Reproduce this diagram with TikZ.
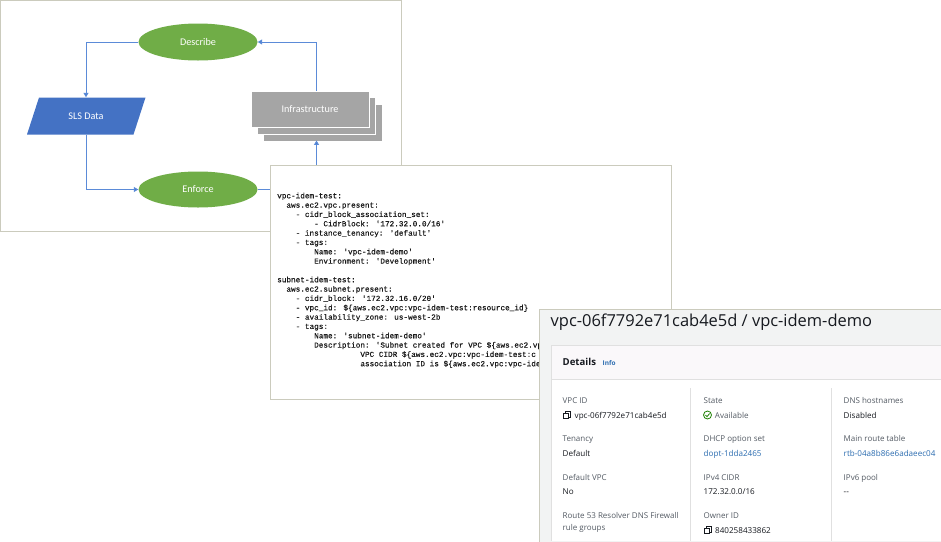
\documentclass[tikz,border=0pt]{standalone}
\usepackage{fontspec}
\usetikzlibrary{shapes.geometric,arrows.meta}
\newfontfamily\diagfont{Carlito}
\newfontfamily\codefont[FakeBold=0.35]{Liberation Mono}
\newfontfamily\awsfont{Open Sans}
\definecolor{framec}{HTML}{CBCBBD}
\definecolor{arrowc}{HTML}{5B8BD8}
\definecolor{greenf}{HTML}{70AD47}
\definecolor{bluef}{HTML}{4472C4}
\definecolor{greyf}{HTML}{A5A5A5}
\definecolor{panelf}{HTML}{F2F3F3}
\definecolor{headf}{HTML}{FAF8FA}
\definecolor{labelc}{HTML}{545B64}
\definecolor{valuec}{HTML}{16191F}
\definecolor{linkc}{HTML}{2B6CB0}
\definecolor{okc}{HTML}{1D8102}
\tikzset{
  oval/.style={ellipse,fill=greenf,minimum width=119pt,minimum height=37pt,inner sep=0pt,text=white,font=\diagfont\fontsize{10.2}{12}\selectfont},
  sheet/.style={rectangle,fill=greyf,minimum width=118pt,minimum height=36.5pt,inner sep=0pt,text=white,font=\diagfont\fontsize{10.2}{12}\selectfont},
  flow/.style={draw=arrowc,line width=1pt,-{Triangle[length=4.5pt,width=5pt,fill=bluef]}},
  code/.style={anchor=base west,inner sep=0pt,font=\codefont\fontsize{7.7}{9}\selectfont,text=black!90},
  lab/.style={anchor=base west,inner sep=0pt,text=labelc,font=\awsfont\fontsize{8}{9}\selectfont},
  val/.style={anchor=base west,inner sep=0pt,text=valuec,font=\awsfont\fontsize{8.1}{9}\selectfont},
  lnk/.style={anchor=base west,inner sep=0pt,text=linkc,font=\awsfont\fontsize{8.1}{9}\selectfont},
  copyicon/.style={draw=valuec,line width=0.8pt},
}
\newcommand{\cl}[4]{\node[code] (#1) at ({277+4.62*#2},{198.3+9.33*#3}) {#4};}
\begin{document}
\begin{tikzpicture}[x=1pt,y=-1pt]
\useasboundingbox (0,0) rectangle (941,541);
\fill[white] (0,0) rectangle (941,541);
% flowchart frame
\draw[framec,line width=1pt] (0.5,0.5) rectangle (401.5,231.5);
\node[oval] (describe) at (198,42) {Describe};
\node[oval,minimum height=36pt] (enforce) at (198,189.5) {Enforce};
\fill[bluef] (39,97.5) -- (145.5,97.5) -- (133.5,134.5) -- (27,134.5) -- cycle;
\node[minimum width=94pt,minimum height=37pt,inner sep=0pt,text=white,font=\diagfont\fontsize{10.2}{12}\selectfont] (sls) at (86,116) {SLS Data};
\node[sheet] (infra3) at (323,123) {};
\node[sheet,draw=white,line width=0.8pt] (infra2) at (316.5,116) {};
\node[sheet,draw=white,line width=0.8pt] (infra1) at (310,109.2) {Infrastructure};
\draw[flow] (describe.west) -| (sls.north);
\draw[flow] (sls.south) |- (enforce.west);
\draw[flow] (enforce.east) -| ([xshift=-6.5pt,yshift=1pt]infra3.south);
\draw[flow] ([xshift=6.5pt]infra1.north) |- (describe.east);
% code box
\draw[framec,fill=white,line width=1pt] (270.5,165.5) rectangle (671.5,399.5);
\cl{c1}{0}{0}{vpc-idem-test:}
\cl{c2}{2}{1}{aws.ec2.vpc.present:}
\cl{c3}{4}{2}{- cidr\_block\_association\_set:}
\cl{c4}{8}{3}{- CidrBlock: '172.32.0.0/16'}
\cl{c5}{4}{4}{- instance\_tenancy: 'default'}
\cl{c6}{4}{5}{- tags:}
\cl{c7}{8}{6}{Name: 'vpc-idem-demo'}
\cl{c8}{8}{7}{Environment: 'Development'}
\cl{c9}{0}{9}{subnet-idem-test:}
\cl{c10}{2}{10}{aws.ec2.subnet.present:}
\cl{c11}{4}{11}{- cidr\_block: '172.32.16.0/20'}
\cl{c12}{4}{12}{- vpc\_id: \$\{aws.ec2.vpc:vpc-idem-test:resource\_id\}}
\cl{c13}{4}{13}{- availability\_zone: us-west-2b}
\cl{c14}{4}{14}{- tags:}
\cl{c15}{8}{15}{Name: 'subnet-idem-demo'}
\cl{c16}{8}{16}{Description: 'Subnet created for VPC \$\{aws.ec2.vp}
\cl{c17}{18}{17}{VPC CIDR \$\{aws.ec2.vpc:vpc-idem-test:c}
\cl{c18}{18}{18}{association ID is \$\{aws.ec2.vpc:vpc-ide}
% AWS console panel
\draw[framec,fill=panelf,line width=1pt] (539.5,309.5) rectangle (945,545);
\fill[white] (551,345) rectangle (941,541);
\fill[headf] (551,345) rectangle (941,379);
\draw[black!12,line width=0.6pt] (551,345) -- (941,345) (551,345) -- (551,541) (551,379.5) -- (941,379.5);
\draw[black!12,line width=0.7pt] (690.5,388) -- (690.5,541) (831,388) -- (831,541);
\node[anchor=base west,inner sep=0pt,text=valuec,font=\awsfont\fontsize{16.45}{18}\selectfont] (title) at (550.5,326) {vpc-06f7792e71cab4e5d / vpc-idem-demo};
\node[anchor=base west,inner sep=0pt,text=valuec,font=\awsfont\bfseries\fontsize{9.6}{11}\selectfont] (details) at (562.5,365.5) {Details};
\node[anchor=base west,inner sep=0pt,text=linkc,font=\awsfont\bfseries\fontsize{6.5}{8}\selectfont] (info) at (602.5,365.5) {Info};
\node[lab] (l11) at (562.5,403.3) {VPC ID};
\node[val] (v11) at (574.5,418) {vpc-06f7792e71cab4e5d};
\node[lab] (l21) at (562.5,441.7) {Tenancy};
\node[val] (v21) at (562.5,456.3) {Default};
\node[lab] (l31) at (562.5,480) {Default VPC};
\node[val] (v31) at (562.5,494.7) {No};
\node[lab] (l41) at (562.5,518.3) {Route 53 Resolver DNS Firewall};
\node[lab] (l42) at (562.5,530) {rule groups};
\node[lab] (l12) at (703.5,403.3) {State};
\node[val,text=labelc] (v12) at (714.7,418) {Available};
\node[lab] (l22) at (703.5,441.7) {DHCP option set};
\node[lnk] (v22) at (703.5,456.3) {dopt-1dda2465};
\node[lab] (l32) at (703.5,480) {IPv4 CIDR};
\node[val] (v32) at (703.5,494.7) {172.32.0.0/16};
\node[lab] (l42b) at (703.5,518.3) {Owner ID};
\node[val] (v42b) at (715,533) {840258433862};
\node[lab] (l13) at (843.5,403.3) {DNS hostnames};
\node[val] (v13) at (843.5,418) {Disabled};
\node[lab] (l23) at (843.5,441.7) {Main route table};
\node[lnk] (v23) at (843.5,456.3) {rtb-04a8b86e6adaeec04};
\node[lab] (l33) at (843.5,480) {IPv6 pool};
\node[val] (v33) at (843.5,494.7) {--};
% icons
\draw[copyicon] (565.5,411.5) rectangle (570.5,417);
\draw[copyicon,fill=white] (563.5,413.5) rectangle (568.5,418.5);
\draw[copyicon] (706,526.5) rectangle (711,532);
\draw[copyicon,fill=white] (704,528.5) rectangle (709,533.5);
\draw[okc,line width=0.8pt] (707.5,415) circle (4);
\draw[okc,line width=0.8pt] (705.5,415) -- (707,416.7) -- (709.6,413.5);
\end{tikzpicture}
\end{document}
